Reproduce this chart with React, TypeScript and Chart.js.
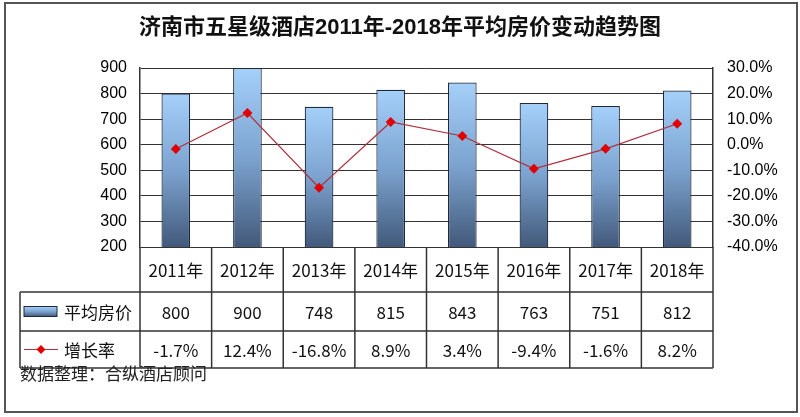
import { useEffect, useRef } from 'react';
import { Chart, registerables, type Plugin, type ScriptableContext } from 'chart.js';

Chart.register(...registerables);

// Chart text + data.
const TITLE = '济南市五星级酒店2011年-2018年平均房价变动趋势图';
const SOURCE_NOTE = '数据整理：合纵酒店顾问';
const YEARS = ['2011年', '2012年', '2013年', '2014年', '2015年', '2016年', '2017年', '2018年'];
const PRICE_LABEL = '平均房价';
const RATE_LABEL = '增长率';
const AVG_PRICE = [800, 900, 748, 815, 843, 763, 751, 812];
// growth rate, in percent
const GROWTH_RATE = [-1.7, 12.4, -16.8, 8.9, 3.4, -9.4, -1.6, 8.2];

const LINE_DARK = '#333333';
const TEXT_FONT = '"Noto Sans CJK SC", sans-serif';
const TICK_FONT = '"Liberation Sans", Arial, sans-serif';

function barGradient(ctx: CanvasRenderingContext2D, top: number, bottom: number) {
  const g = ctx.createLinearGradient(0, top, 0, bottom);
  g.addColorStop(0, '#a4d0fa');
  g.addColorStop(0.5, '#7ca3cf');
  g.addColorStop(1, '#42597a');
  return g;
}

// White page, outer frame, title, data table and source note.
const frameAndTablePlugin: Plugin = {
  id: 'frameAndTable',
  beforeDraw(chart) {
    const { ctx, width, height } = chart;
    ctx.save();
    ctx.fillStyle = '#ffffff';
    ctx.fillRect(0, 0, width, height);
    ctx.restore();
  },
  afterDraw(chart) {
    const { ctx, chartArea } = chart;
    const xs = chart.scales.x;
    const left = chartArea.left;
    const right = chartArea.right;
    const top = chartArea.bottom;
    const rowVal = top + 45;
    const rowRate = top + 84;
    const rowEnd = top + 121;
    const keyLeft = 20;
    const colW = (right - left) / YEARS.length;

    ctx.save();
    // outer frame
    ctx.strokeStyle = '#555555';
    ctx.lineWidth = 2;
    ctx.strokeRect(5, 3, 792, 409);

    // title
    ctx.fillStyle = '#111111';
    ctx.font = 'bold 22px "Liberation Sans", "Noto Sans CJK SC", sans-serif';
    ctx.textAlign = 'center';
    ctx.textBaseline = 'middle';
    ctx.fillText(TITLE, 400, 28);

    // table grid
    ctx.strokeStyle = LINE_DARK;
    ctx.lineWidth = 1.5;
    const seg = (x1: number, y1: number, x2: number, y2: number) => {
      ctx.beginPath();
      ctx.moveTo(x1, y1);
      ctx.lineTo(x2, y2);
      ctx.stroke();
    };
    seg(keyLeft, rowVal, right, rowVal);
    seg(keyLeft, rowRate, right, rowRate);
    seg(keyLeft, rowEnd, right, rowEnd);
    seg(keyLeft, rowVal, keyLeft, rowEnd);
    for (let i = 0; i <= YEARS.length; i++) {
      const x = left + i * colW;
      seg(x, top, x, rowEnd);
    }

    // cells
    ctx.fillStyle = '#111111';
    ctx.font = `17px ${TEXT_FONT}`;
    ctx.textAlign = 'center';
    ctx.textBaseline = 'middle';
    YEARS.forEach((year, i) => {
      const cx = xs.getPixelForValue(i);
      ctx.fillText(year, cx, (top + rowVal) / 2 + 1);
      ctx.fillText(String(AVG_PRICE[i]), cx, (rowVal + rowRate) / 2 + 1);
      ctx.fillText(`${GROWTH_RATE[i].toFixed(1)}%`, cx, (rowRate + rowEnd) / 2 + 1);
    });

    // legend keys
    const barKeyY = (rowVal + rowRate) / 2;
    ctx.fillStyle = barGradient(ctx, barKeyY - 5, barKeyY + 5);
    ctx.fillRect(24, barKeyY - 5, 33, 10);
    ctx.lineWidth = 1;
    ctx.strokeStyle = '#1e2a3a';
    ctx.strokeRect(24, barKeyY - 5, 33, 10);

    const lineKeyY = (rowRate + rowEnd) / 2;
    ctx.strokeStyle = '#b0303e';
    ctx.lineWidth = 1.2;
    seg(24, lineKeyY, 58, lineKeyY);
    ctx.fillStyle = '#e00000';
    ctx.beginPath();
    ctx.moveTo(41, lineKeyY - 4.5);
    ctx.lineTo(45.5, lineKeyY);
    ctx.lineTo(41, lineKeyY + 4.5);
    ctx.lineTo(36.5, lineKeyY);
    ctx.closePath();
    ctx.fill();

    ctx.fillStyle = '#111111';
    ctx.textAlign = 'left';
    ctx.fillText(PRICE_LABEL, 64, barKeyY + 1);
    ctx.fillText(RATE_LABEL, 64, lineKeyY + 1);

    // source note
    ctx.fillStyle = '#222222';
    ctx.fillText(SOURCE_NOTE, 20, 374);
    ctx.restore();
  },
};

export default function App() {
  const canvasRef = useRef<HTMLCanvasElement | null>(null);

  useEffect(() => {
    const canvas = canvasRef.current;
    if (!canvas) return undefined;
    const chart = new Chart(canvas, {
      type: 'bar',
      data: {
        labels: YEARS,
        datasets: [
          {
            type: 'line',
            label: RATE_LABEL,
            data: GROWTH_RATE,
            yAxisID: 'y1',
            order: 0,
            borderColor: '#b0303e',
            borderWidth: 1.2,
            pointStyle: 'rectRot',
            pointRadius: 5,
            pointBackgroundColor: '#e00000',
            pointBorderColor: '#e00000',
            pointBorderWidth: 0,
            tension: 0,
          },
          {
            type: 'bar',
            label: PRICE_LABEL,
            data: AVG_PRICE,
            yAxisID: 'y',
            order: 1,
            barPercentage: 0.4,
            categoryPercentage: 1,
            borderColor: '#1e2a3a',
            borderWidth: 1.2,
            backgroundColor: (c: ScriptableContext<'bar'>) => {
              const ch = c.chart;
              if (c.type !== 'data' || !ch.chartArea) return '#7ca3cf';
              const ys = ch.scales.y;
              return barGradient(ch.ctx, ys.getPixelForValue(c.raw as number), ys.getPixelForValue(ys.min));
            },
          },
        ],
      },
      options: {
        animation: false,
        responsive: true,
        maintainAspectRatio: false,
        layout: { padding: { top: 68, bottom: 170, left: 0, right: 0 } },
        plugins: {
          legend: { display: false },
          title: { display: false },
          tooltip: { enabled: false },
        },
        scales: {
          x: { display: false },
          y: {
            position: 'left',
            min: 200,
            max: 900,
            beginAtZero: false,
            ticks: {
              stepSize: 100,
              padding: 13,
              color: '#000000',
              font: { family: TICK_FONT, size: 16 },
            },
            grid: { color: LINE_DARK, lineWidth: 1, drawTicks: false },
            border: { display: true, color: LINE_DARK, width: 1.5 },
            afterFit: (scale) => {
              scale.width = 140;
            },
          },
          y1: {
            position: 'right',
            min: -40,
            max: 30,
            ticks: {
              stepSize: 10,
              padding: 14,
              color: '#000000',
              font: { family: TICK_FONT, size: 16 },
              callback: (v) => `${Number(v).toFixed(1)}%`,
            },
            grid: { drawOnChartArea: false, drawTicks: false },
            border: { display: true, color: LINE_DARK, width: 1.5 },
            afterFit: (scale) => {
              scale.width = 87;
            },
          },
        },
      },
      plugins: [frameAndTablePlugin],
    });
    return () => chart.destroy();
  }, []);

  return (
    <div style={{ position: 'absolute', left: 0, top: 0, width: 800, height: 417 }}>
      <canvas ref={canvasRef} />
    </div>
  );
}
